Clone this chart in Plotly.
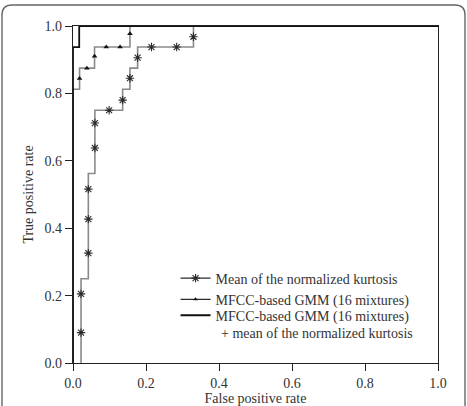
import plotly.graph_objects as go

# ---- data ----
# ROC step vertices (x = false positive rate, y = true positive rate), drawn vertical-then-horizontal
kurt_fpr = [0.022, 0.042, 0.060, 0.136, 0.156, 0.177, 0.330, 1.0]
kurt_tpr = [0.0, 0.25, 0.5625, 0.75, 0.8125, 0.875, 0.9375, 1.0]
kurt_mark_fpr = [0.022, 0.022, 0.042, 0.042, 0.042, 0.060, 0.060, 0.099, 0.136, 0.156, 0.177, 0.215, 0.284, 0.330]
kurt_mark_tpr = [0.090, 0.205, 0.326, 0.427, 0.516, 0.638, 0.712, 0.750, 0.780, 0.845, 0.906, 0.9375, 0.9375, 0.968]

mfcc_fpr = [0.0, 0.018, 0.059, 0.156, 1.0]
mfcc_tpr = [0.0, 0.8125, 0.875, 0.9375, 1.0]
mfcc_mark_fpr = [0.018, 0.038, 0.059, 0.091, 0.129, 0.156]
mfcc_mark_tpr = [0.844, 0.875, 0.910, 0.9375, 0.9375, 0.977]

comb_fpr = [0.0, 0.017, 1.0]
comb_tpr = [0.0, 0.9375, 1.0]

tick_vals = [0.0, 0.2, 0.4, 0.6, 0.8, 1.0]
tick_text = ["0.0", "0.2", "0.4", "0.6", "0.8", "1.0"]

names = ["Mean of the normalized kurtosis",
         "MFCC-based GMM (16 mixtures)",
         "MFCC-based GMM (16 mixtures)"]
name_cont = "+ mean of the normalized kurtosis"

GRAY = "#8a8a8a"
DARK = "#2a2a2a"
BLACK = "#111111"
FONT = "Liberation Serif, Times New Roman, Times, serif"
FS = 14

W, H = 467, 406
L, R, T, B = 73, 29, 26, 43

fig = go.Figure()

# curves
fig.add_trace(go.Scatter(x=kurt_fpr, y=kurt_tpr, mode="lines", line=dict(color=GRAY, width=1.6, shape="vh"),
                         showlegend=False, hoverinfo="skip"))
fig.add_trace(go.Scatter(x=mfcc_fpr, y=mfcc_tpr, mode="lines", line=dict(color=GRAY, width=1.6, shape="vh"),
                         showlegend=False, hoverinfo="skip"))
fig.add_trace(go.Scatter(x=comb_fpr, y=comb_tpr, mode="lines", line=dict(color=BLACK, width=1.8, shape="vh"),
                         showlegend=False, hoverinfo="skip"))
# markers
fig.add_trace(go.Scatter(x=kurt_mark_fpr, y=kurt_mark_tpr, mode="markers",
                         marker=dict(symbol="asterisk-open", size=7, color=DARK, line=dict(color=DARK, width=1.1)),
                         showlegend=False))
fig.add_trace(go.Scatter(x=mfcc_mark_fpr, y=mfcc_mark_tpr, mode="markers",
                         marker=dict(symbol="triangle-up", size=5, color=BLACK),
                         showlegend=False))

# legend entries
fig.add_trace(go.Scatter(x=[None], y=[None], mode="lines+markers", name=names[0], legend="legend",
                         line=dict(color=DARK, width=1.3),
                         marker=dict(symbol="asterisk-open", size=7, color=DARK, line=dict(color=DARK, width=1.1))))
fig.add_trace(go.Scatter(x=[None], y=[None], mode="lines+markers", name=names[1], legend="legend",
                         line=dict(color=DARK, width=1.3),
                         marker=dict(symbol="triangle-up", size=4, color=BLACK)))
fig.add_trace(go.Scatter(x=[None], y=[None], mode="lines", name=names[2], legend="legend2",
                         line=dict(color=BLACK, width=1.8)))

axis_common = dict(
    range=[0, 1], tickvals=tick_vals, ticktext=tick_text, automargin=False,
    showgrid=False, zeroline=False, showline=True, linecolor="#222222", linewidth=1.3,
    mirror=True, ticks="outside", ticklen=7, tickwidth=1.2, tickcolor="#222222",
    tickfont=dict(family=FONT, size=FS, color="#333333"),
)
fig.update_xaxes(**axis_common, title=dict(text="False positive rate", font=dict(family=FONT, size=FS, color="#333333"), standoff=17))
fig.update_yaxes(**axis_common, title=dict(text="True positive rate", font=dict(family=FONT, size=FS, color="#333333"), standoff=7))

# continuation line of the third legend label
fig.add_annotation(text=name_cont, xref="paper", yref="paper", x=(219 - L) / (W - L - R),
                   y=(H - B - 333) / (H - T - B), xanchor="left", yanchor="middle", showarrow=False,
                   font=dict(family=FONT, size=FS, color="#333333"))

# rounded outer frame (in paper coords)
def px(xp):
    return (xp - L) / (W - L - R)

def py(yp):
    return (H - B - yp) / (H - T - B)

x0, x1, y0, y1, r = 2, 465, 5, 420, 10
path = (f"M {px(x0)},{py(y1)} L {px(x0)},{py(y0 + r)} Q {px(x0)},{py(y0)} {px(x0 + r)},{py(y0)} "
        f"L {px(x1 - r)},{py(y0)} Q {px(x1)},{py(y0)} {px(x1)},{py(y0 + r)} L {px(x1)},{py(y1)}")
fig.add_shape(type="path", path=path, xref="paper", yref="paper", line=dict(color="#666666", width=1.4),
              layer="below")

legend_common = dict(xanchor="left", yanchor="top", bgcolor="rgba(0,0,0,0)",
                     font=dict(family=FONT, size=FS, color="#333333"), itemwidth=30)

fig.update_layout(
    width=W, height=H,
    margin=dict(l=L, r=R, t=T, b=B, pad=0),
    paper_bgcolor="white", plot_bgcolor="white",
    font=dict(family=FONT, size=FS, color="#333333"),
    legend=dict(x=0.281, y=0.298, **legend_common),
    legend2=dict(x=0.281, y=0.188, **legend_common),
)

fig.write_html("out.html")
